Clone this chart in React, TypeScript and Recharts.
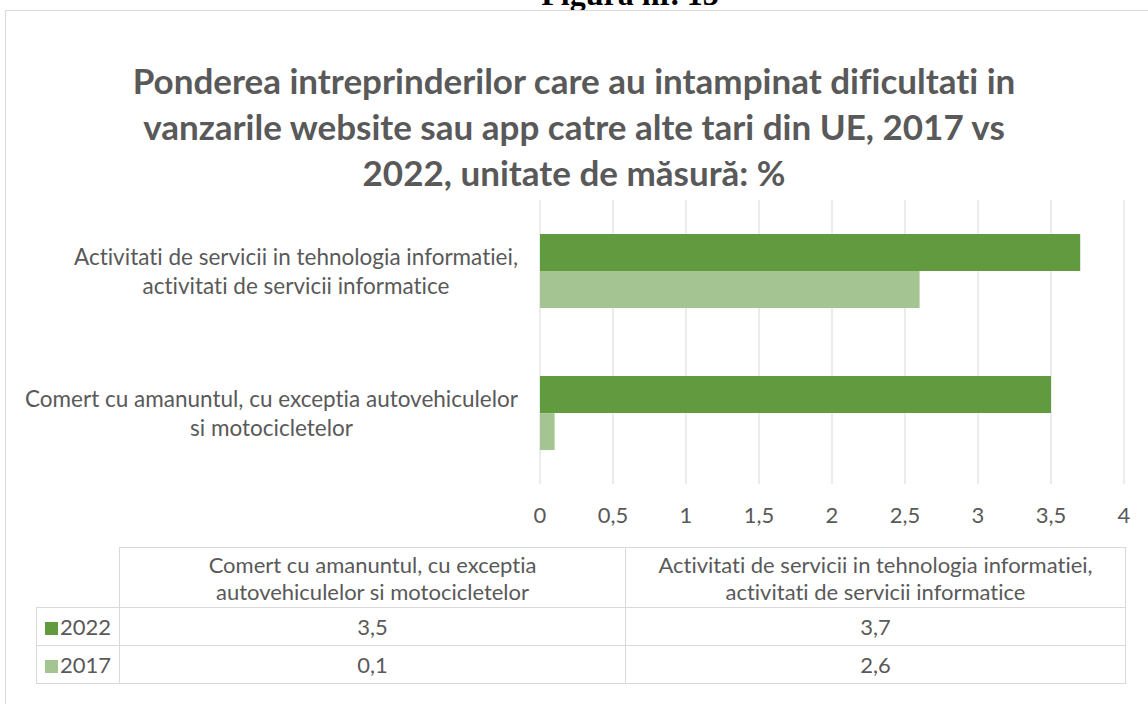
import { BarChart, Bar, XAxis, YAxis, CartesianGrid } from 'recharts';

// chart order (top to bottom): IT first, retail second
const categories = ['IT', 'Comert'];
const axisLabelLines = [
    ['Activitati de servicii in tehnologia informatiei,', 'activitati de servicii informatice'],
    ['Comert cu amanuntul, cu exceptia autovehiculelor', 'si motocicletelor'],
];
const tableLabelLines = [
    ['Activitati de servicii in tehnologia informatiei,', 'activitati de servicii informatice'],
    ['Comert cu amanuntul, cu exceptia', 'autovehiculelor si motocicletelor'],
];
const values2022 = [3.7, 3.5];
const values2017 = [2.6, 0.1];
const xTicks = [0, 0.5, 1, 1.5, 2, 2.5, 3, 3.5, 4];

const seriesNames = ['2022', '2017'];
const seriesColors = ['#629B3F', '#A4C591'];

const FONT = 'Lato, "Open Sans", sans-serif';
const GREY = '#595959';
const GRID = '#d9d9d9';
const noLig = { fontVariantLigatures: 'none' as const, fontFeatureSettings: '"liga" 0' };

const fmt = (v: number) => String(v).replace('.', ',');

const chartData = categories.map((c, i) => ({
    cat: c,
    y2022: values2022[i],
    y2017: values2017[i],
}));

function CategoryTick(props: any) {
    const { x, y, payload } = props;
    const idx = categories.indexOf(payload.value);
    const lines = axisLabelLines[idx] ?? [];
    return (
        <foreignObject x={x - 530} y={y - 35} width={530} height={70}>
            <div
                style={{
                    display: 'flex',
                    justifyContent: 'flex-end',
                    alignItems: 'center',
                    height: 70,
                    fontFamily: FONT,
                    fontSize: 22.5,
                    color: GREY,
                    lineHeight: '29px',
                    ...noLig,
                }}
            >
                <div style={{ textAlign: 'center', whiteSpace: 'nowrap' }}>
                    {lines.map((l, k) => (
                        <div key={k}>{l}</div>
                    ))}
                </div>
            </div>
        </foreignObject>
    );
}

export default function App() {
    // data table shows categories in the reverse order of the chart
    const tableOrder = [1, 0];
    const tableSeries = [values2022, values2017];

    const cell = { border: `1px solid ${GRID}`, padding: 0 };

    return (
        <div
            style={{
                position: 'absolute',
                left: 0,
                top: 0,
                width: 1148,
                height: 704,
                overflow: 'hidden',
                background: '#fff',
            }}
        >
            <div
                style={{
                    position: 'absolute',
                    left: 0,
                    width: 1148,
                    top: -24,
                    textAlign: 'center',
                    paddingLeft: 112,
                    boxSizing: 'border-box',
                    fontFamily: '"Liberation Serif", serif',
                    fontWeight: 'bold',
                    fontSize: 32,
                    lineHeight: '36px',
                }}
            >
                Figura nr. 13
            </div>

            <div
                style={{
                    position: 'absolute',
                    left: 5,
                    top: 10,
                    width: 1300,
                    height: 900,
                    border: `1px solid ${GRID}`,
                    background: '#fff',
                }}
            />

            <div
                style={{
                    position: 'absolute',
                    left: 0,
                    top: 57,
                    width: 1148,
                    textAlign: 'center',
                    fontFamily: FONT,
                    fontWeight: 'bold',
                    fontSize: 35,
                    lineHeight: '46px',
                    color: GREY,
                    ...noLig,
                }}
            >
                Ponderea intreprinderilor care au intampinat dificultati in
                <br />
                vanzarile website sau app catre alte tari din UE, 2017 vs
                <br />
                2022, unitate de măsură: %
            </div>

            <div style={{ position: 'absolute', left: 0, top: 0 }}>
                <BarChart
                    width={1148}
                    height={530}
                    data={chartData}
                    layout="vertical"
                    margin={{ top: 200, right: 24, left: 0, bottom: 6 }}
                    barCategoryGap="24%"
                    barGap={0}
                >
                    <CartesianGrid horizontal={false} stroke={GRID} />
                    <XAxis
                        type="number"
                        domain={[0, 4]}
                        ticks={xTicks}
                        tickFormatter={fmt}
                        axisLine={false}
                        tickLine={false}
                        tickMargin={17}
                        height={40}
                        tick={{ fill: GREY, fontSize: 22, fontFamily: FONT }}
                    />
                    <YAxis
                        type="category"
                        dataKey="cat"
                        width={540}
                        axisLine={false}
                        tickLine={false}
                        tickMargin={16}
                        tick={<CategoryTick />}
                    />
                    <Bar dataKey="y2022" fill={seriesColors[0]} isAnimationActive={false} />
                    <Bar dataKey="y2017" fill={seriesColors[1]} isAnimationActive={false} />
                </BarChart>
            </div>

            <table
                style={{
                    position: 'absolute',
                    left: 36,
                    top: 547,
                    width: 1089,
                    borderCollapse: 'collapse',
                    fontFamily: FONT,
                    fontSize: 22,
                    color: GREY,
                    tableLayout: 'fixed',
                    ...noLig,
                }}
            >
                <colgroup>
                    <col style={{ width: 83 }} />
                    <col style={{ width: 506 }} />
                    <col style={{ width: 500 }} />
                </colgroup>
                <tbody>
                    <tr style={{ height: 60 }}>
                        <td style={{ padding: 0 }} />
                        {tableOrder.map((i) => (
                            <td key={i} style={{ ...cell, textAlign: 'center', lineHeight: '27px' }}>
                                {tableLabelLines[i].map((l, k) => (
                                    <div key={k}>{l}</div>
                                ))}
                            </td>
                        ))}
                    </tr>
                    {seriesNames.map((name, s) => (
                        <tr key={name} style={{ height: 38 }}>
                            <td style={{ ...cell, paddingLeft: 8, lineHeight: '24px' }}>
                                <span
                                    style={{
                                        display: 'inline-block',
                                        width: 13,
                                        height: 13,
                                        background: seriesColors[s],
                                        marginRight: 2,
                                    }}
                                />
                                {name}
                            </td>
                            {tableOrder.map((i) => (
                                <td key={i} style={{ ...cell, textAlign: 'center' }}>
                                    {fmt(tableSeries[s][i])}
                                </td>
                            ))}
                        </tr>
                    ))}
                </tbody>
            </table>
        </div>
    );
}
